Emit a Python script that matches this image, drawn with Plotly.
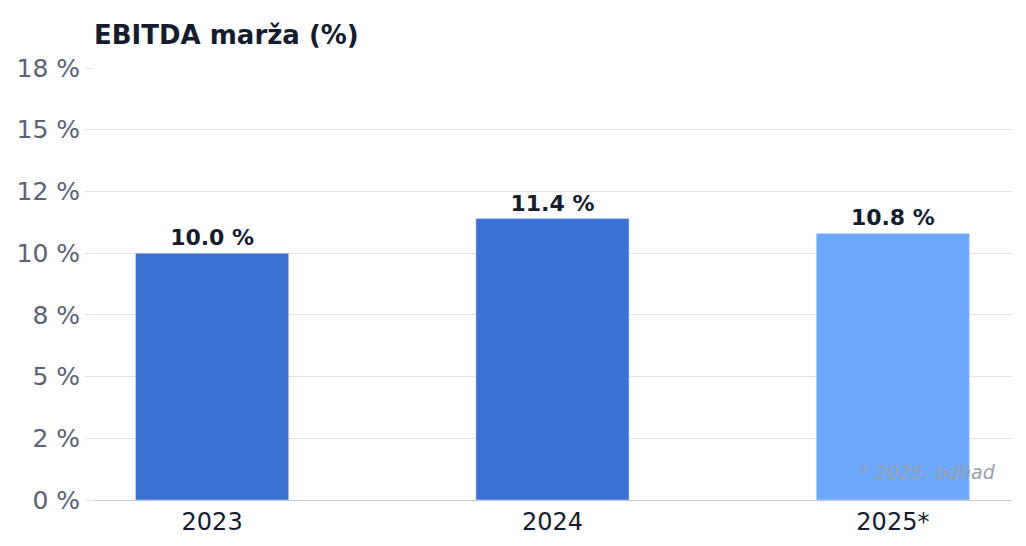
import plotly.graph_objects as go

categories = ["2023", "2024", "2025*"]
values = [10.0, 11.4, 10.8]
labels = ["10.0 %", "11.4 %", "10.8 %"]
colors = ["#3b70d4", "#3b70d4", "#6ca6fd"]
tick_vals = [0, 2.5, 5, 7.5, 10, 12.5, 15, 17.5]
tick_text = ["0 %", "2 %", "5 %", "8 %", "10 %", "12 %", "15 %", "18 %"]

fig = go.Figure(go.Bar(
    x=[0, 1, 2], y=values, marker_color=colors, text=labels, width=0.45,
    textposition="outside", cliponaxis=False,
    textfont=dict(size=22, color="#141c2e", family="DejaVu Sans"),
))
fig.update_traces(texttemplate="<b>%{text}</b>")
fig.update_layout(
    width=1026, height=546, plot_bgcolor="white", paper_bgcolor="white",
    margin=dict(l=86, r=22, t=60, b=54, autoexpand=False), showlegend=False,
    font=dict(family="DejaVu Sans"),
    title=dict(text="<b>EBITDA marža (%)</b>", x=86/1026, xanchor="left", y=1-27/546, yanchor="middle",
               font=dict(size=26, color="#141c2e")),
    annotations=[dict(text="<i>* 2025: odhad</i>", xref="paper", yref="paper", x=0.985, y=0.065,
                      xanchor="right", yanchor="middle", showarrow=False,
                      font=dict(size=19, color="#9aa0ab"))],
)
fig.update_yaxes(range=[0, 17.5], tickvals=tick_vals, ticktext=tick_text, gridcolor="#e0e3e9",
                 tickfont=dict(size=25, color="#5a6275"), zeroline=False, automargin=False,
                 ticks="outside", ticklen=8, tickcolor="#e0e3e9")
fig.update_xaxes(range=[-0.347, 2.35], tickvals=[0, 1, 2], ticktext=categories, automargin=False,
                 tickfont=dict(size=24, color="#141c2e"), showline=True, linecolor="#c5c9d2")
fig.write_html("out.html")
